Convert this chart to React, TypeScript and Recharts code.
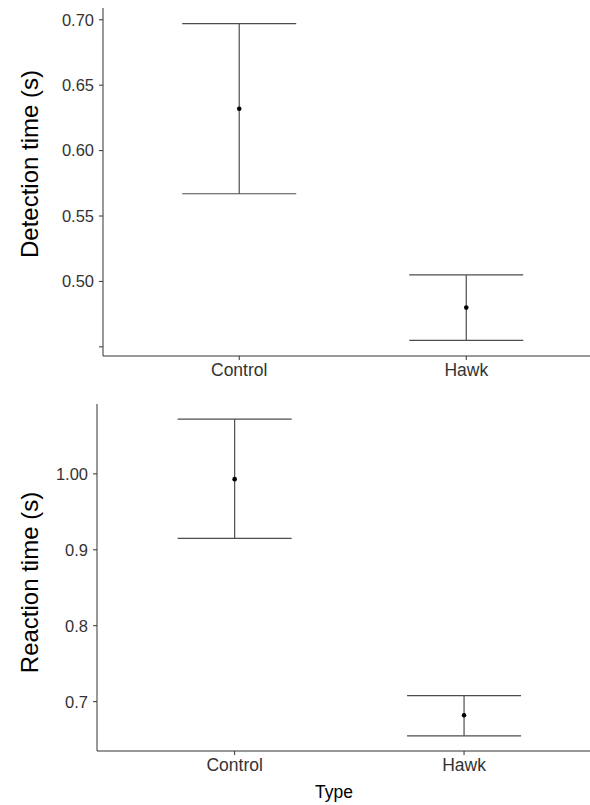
import React from 'react';
import { ScatterChart, Scatter, XAxis, YAxis, ErrorBar } from 'recharts';

// categories on the x axis
const types = ['Control', 'Hawk'];

// detection time (s): mean and error bar ends
const detectionMean = [0.632, 0.48];
const detectionLower = [0.567, 0.455];
const detectionUpper = [0.697, 0.505];

// reaction time (s): mean and error bar ends
const reactionMean = [0.993, 0.682];
const reactionLower = [0.915, 0.655];
const reactionUpper = [1.072, 0.708];

const detectionTicks = [0.45, 0.5, 0.55, 0.6, 0.65, 0.7];
const detectionTickLabels = ['', '0.50', '0.55', '0.60', '0.65', '0.70'];
const reactionTicks = [0.7, 0.8, 0.9, 1.0];
const reactionTickLabels = ['0.7', '0.8', '0.9', '1.00'];

const LINE = '#333333';
const TEXT = '#333333';
const FONT = '"Liberation Sans", Arial, sans-serif';

const buildRows = (mean: number[], lower: number[], upper: number[]) =>
  types.map((t, i) => ({
    type: t,
    pos: i + 1,
    mean: mean[i],
    err: [mean[i] - lower[i], upper[i] - mean[i]],
  }));

const detectionRows = buildRows(detectionMean, detectionLower, detectionUpper);
const reactionRows = buildRows(reactionMean, reactionLower, reactionUpper);

const labelFor = (ticks: number[], labels: string[]) => (v: number) => {
  const i = ticks.findIndex((t) => Math.abs(t - v) < 1e-9);
  return i >= 0 ? labels[i] : '';
};

const Dot = (props: any) => <circle cx={props.cx} cy={props.cy} r={2.3} fill="#000" />;

interface PanelProps {
  data: any[];
  xDomain: [number, number];
  domain: [number, number];
  ticks: number[];
  tickLabels: string[];
  yTitle: string;
  yTitleShift: number;
  xTitle?: string;
  height: number;
  marginTop: number;
  yAxisWidth: number;
  xAxisHeight: number;
}

const Panel = ({
  data,
  xDomain,
  domain,
  ticks,
  tickLabels,
  yTitle,
  yTitleShift,
  xTitle,
  height,
  marginTop,
  yAxisWidth,
  xAxisHeight,
}: PanelProps) => (
  <ScatterChart width={590} height={height} margin={{ top: marginTop, right: 0, bottom: 0, left: 0 }}>
    <XAxis
      type="number"
      dataKey="pos"
      domain={xDomain}
      ticks={types.map((_, i) => i + 1)}
      tickFormatter={(v: number) => types[v - 1]}
      allowDataOverflow
      interval={0}
      height={xAxisHeight}
      axisLine={{ stroke: LINE, strokeWidth: 1 }}
      tickLine={{ stroke: LINE, strokeWidth: 1 }}
      tickSize={4}
      tickMargin={4}
      tick={{ fill: TEXT, fontSize: 17.5 }}
      label={
        xTitle
          ? {
              content: (p: any) => (
                <text x={334} y={p.viewBox.y + 47} textAnchor="middle" fontSize={17.5} fill="#000">
                  {xTitle}
                </text>
              ),
            }
          : undefined
      }
    />
    <YAxis
      type="number"
      dataKey="mean"
      domain={domain}
      ticks={ticks}
      tickFormatter={labelFor(ticks, tickLabels)}
      allowDataOverflow
      interval={0}
      width={yAxisWidth}
      axisLine={{ stroke: LINE, strokeWidth: 1 }}
      tickLine={{ stroke: LINE, strokeWidth: 1 }}
      tickSize={4}
      tickMargin={5}
      tick={{ fill: TEXT, fontSize: 16.5 }}
      label={{
        content: (p: any) => {
          const cx = 38;
          const cy = p.viewBox.y + p.viewBox.height / 2 + yTitleShift;
          return (
            <text
              x={cx}
              y={cy}
              transform={`rotate(-90, ${cx}, ${cy})`}
              textAnchor="middle"
              fontSize={24}
              fill="#000"
            >
              {yTitle}
            </text>
          );
        },
      }}
    />
    <Scatter data={data} isAnimationActive={false} shape={Dot}>
      <ErrorBar
        dataKey="err"
        direction="y"
        width={57}
        stroke="#4d4d4d"
        strokeWidth={1.2}
        isAnimationActive={false}
      />
    </Scatter>
  </ScatterChart>
);

export default function App() {
  return (
    <div
      style={{
        position: 'absolute',
        left: 0,
        top: 0,
        width: 590,
        height: 805,
        overflow: 'hidden',
        background: '#fff',
        fontFamily: FONT,
      }}
    >
      <Panel
        data={detectionRows}
        xDomain={[0.4, 2.545]}
        domain={[0.443, 0.709]}
        ticks={detectionTicks}
        tickLabels={detectionTickLabels}
        yTitle="Detection time (s)"
        yTitleShift={-18}
        height={386}
        marginTop={8}
        yAxisWidth={103}
        xAxisHeight={30}
      />
      <Panel
        data={reactionRows}
        xDomain={[0.4, 2.549]}
        domain={[0.635, 1.092]}
        ticks={reactionTicks}
        tickLabels={reactionTickLabels}
        yTitle="Reaction time (s)"
        yTitleShift={5}
        xTitle="Type"
        height={419}
        marginTop={18}
        yAxisWidth={97}
        xAxisHeight={54}
      />
    </div>
  );
}
